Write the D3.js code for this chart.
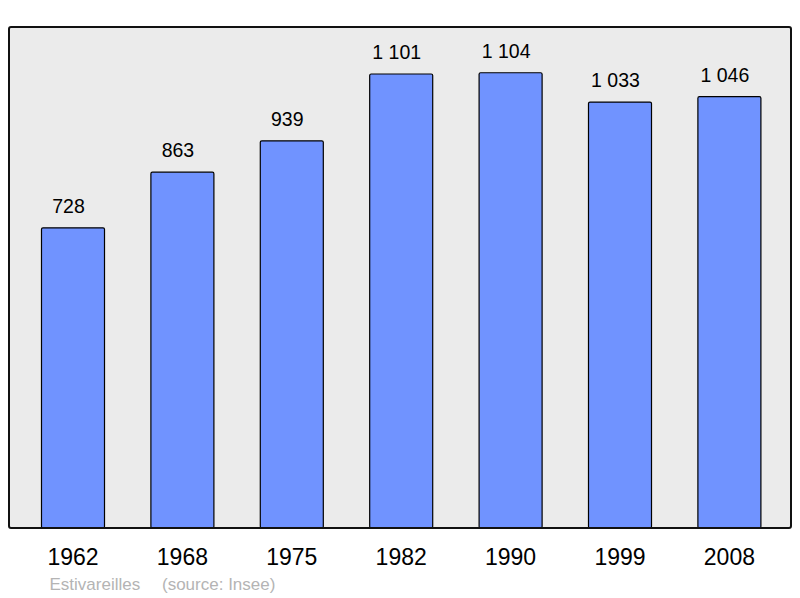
<!DOCTYPE html>
<html>
<head>
<meta charset="utf-8">
<script src="https://cdn.jsdelivr.net/npm/d3@7"></script>
<style>
  body { margin: 0; background: #fff; }
  svg { display: block; font-family: 'Liberation Sans', Arial, sans-serif; }
</style>
</head>
<body>
<svg></svg>
<script>
const years = ['1962', '1968', '1975', '1982', '1990', '1999', '2008']
const population = [728, 863, 939, 1101, 1104, 1033, 1046]
const commune = 'Estivareilles'
const source = '(source: Insee)'

const width = 800
const height = 598
const frame = { left: 9, top: 27, right: 791, bottom: 528 }

// french style thousands: "1 101"
const fmt = v => d3.format(',')(v).replace(/,/g, ' ')

const x = d3.scaleBand()
  .domain(years)
  .range([18.3, 784.1])
  .paddingInner(0.424)
  .paddingOuter(0.212)

const y = d3.scaleLinear()
  .domain([0, 1215])
  .range([frame.bottom, frame.top])

const svg = d3.select('svg')
  .attr('width', width)
  .attr('height', height)

// plot background
svg.append('rect')
  .attr('x', frame.left)
  .attr('y', frame.top)
  .attr('width', frame.right - frame.left)
  .attr('height', frame.bottom - frame.top)
  .attr('rx', 2)
  .attr('fill', '#ebebeb')

// bars
svg.append('g')
  .selectAll('rect')
  .data(years)
  .join('rect')
  .attr('x', d => x(d))
  .attr('y', (d, i) => y(population[i]))
  .attr('width', x.bandwidth())
  .attr('height', (d, i) => y(0) - y(population[i]))
  .attr('rx', 1.5)
  .attr('fill', '#7093ff')
  .attr('stroke', '#000')
  .attr('stroke-width', 1.2)

// value labels (sit a little left of bar centre, like the original)
svg.append('g')
  .attr('font-size', '19.5px')
  .attr('text-anchor', 'middle')
  .attr('fill', '#000')
  .selectAll('text')
  .data(years)
  .join('text')
  .attr('x', d => x(d) + x.bandwidth() / 2 - 4.5)
  .attr('y', (d, i) => y(population[i]) - 15)
  .text((d, i) => fmt(population[i]))

// frame border on top
svg.append('rect')
  .attr('x', frame.left)
  .attr('y', frame.top)
  .attr('width', frame.right - frame.left)
  .attr('height', frame.bottom - frame.top)
  .attr('rx', 2)
  .attr('fill', 'none')
  .attr('stroke', '#111')
  .attr('stroke-width', 2)

// year labels
svg.append('g')
  .attr('font-size', '23px')
  .attr('text-anchor', 'middle')
  .selectAll('text')
  .data(years)
  .join('text')
  .attr('x', d => x(d) + x.bandwidth() / 2)
  .attr('y', 565)
  .text(d => d)

// footer
svg.append('text')
  .attr('x', 49.5)
  .attr('y', 590)
  .attr('font-size', '17px')
  .attr('fill', '#b4b4b4')
  .text(commune)

svg.append('text')
  .attr('x', 162)
  .attr('y', 590)
  .attr('font-size', '17px')
  .attr('fill', '#b4b4b4')
  .text(source)
</script>
</body>
</html>
